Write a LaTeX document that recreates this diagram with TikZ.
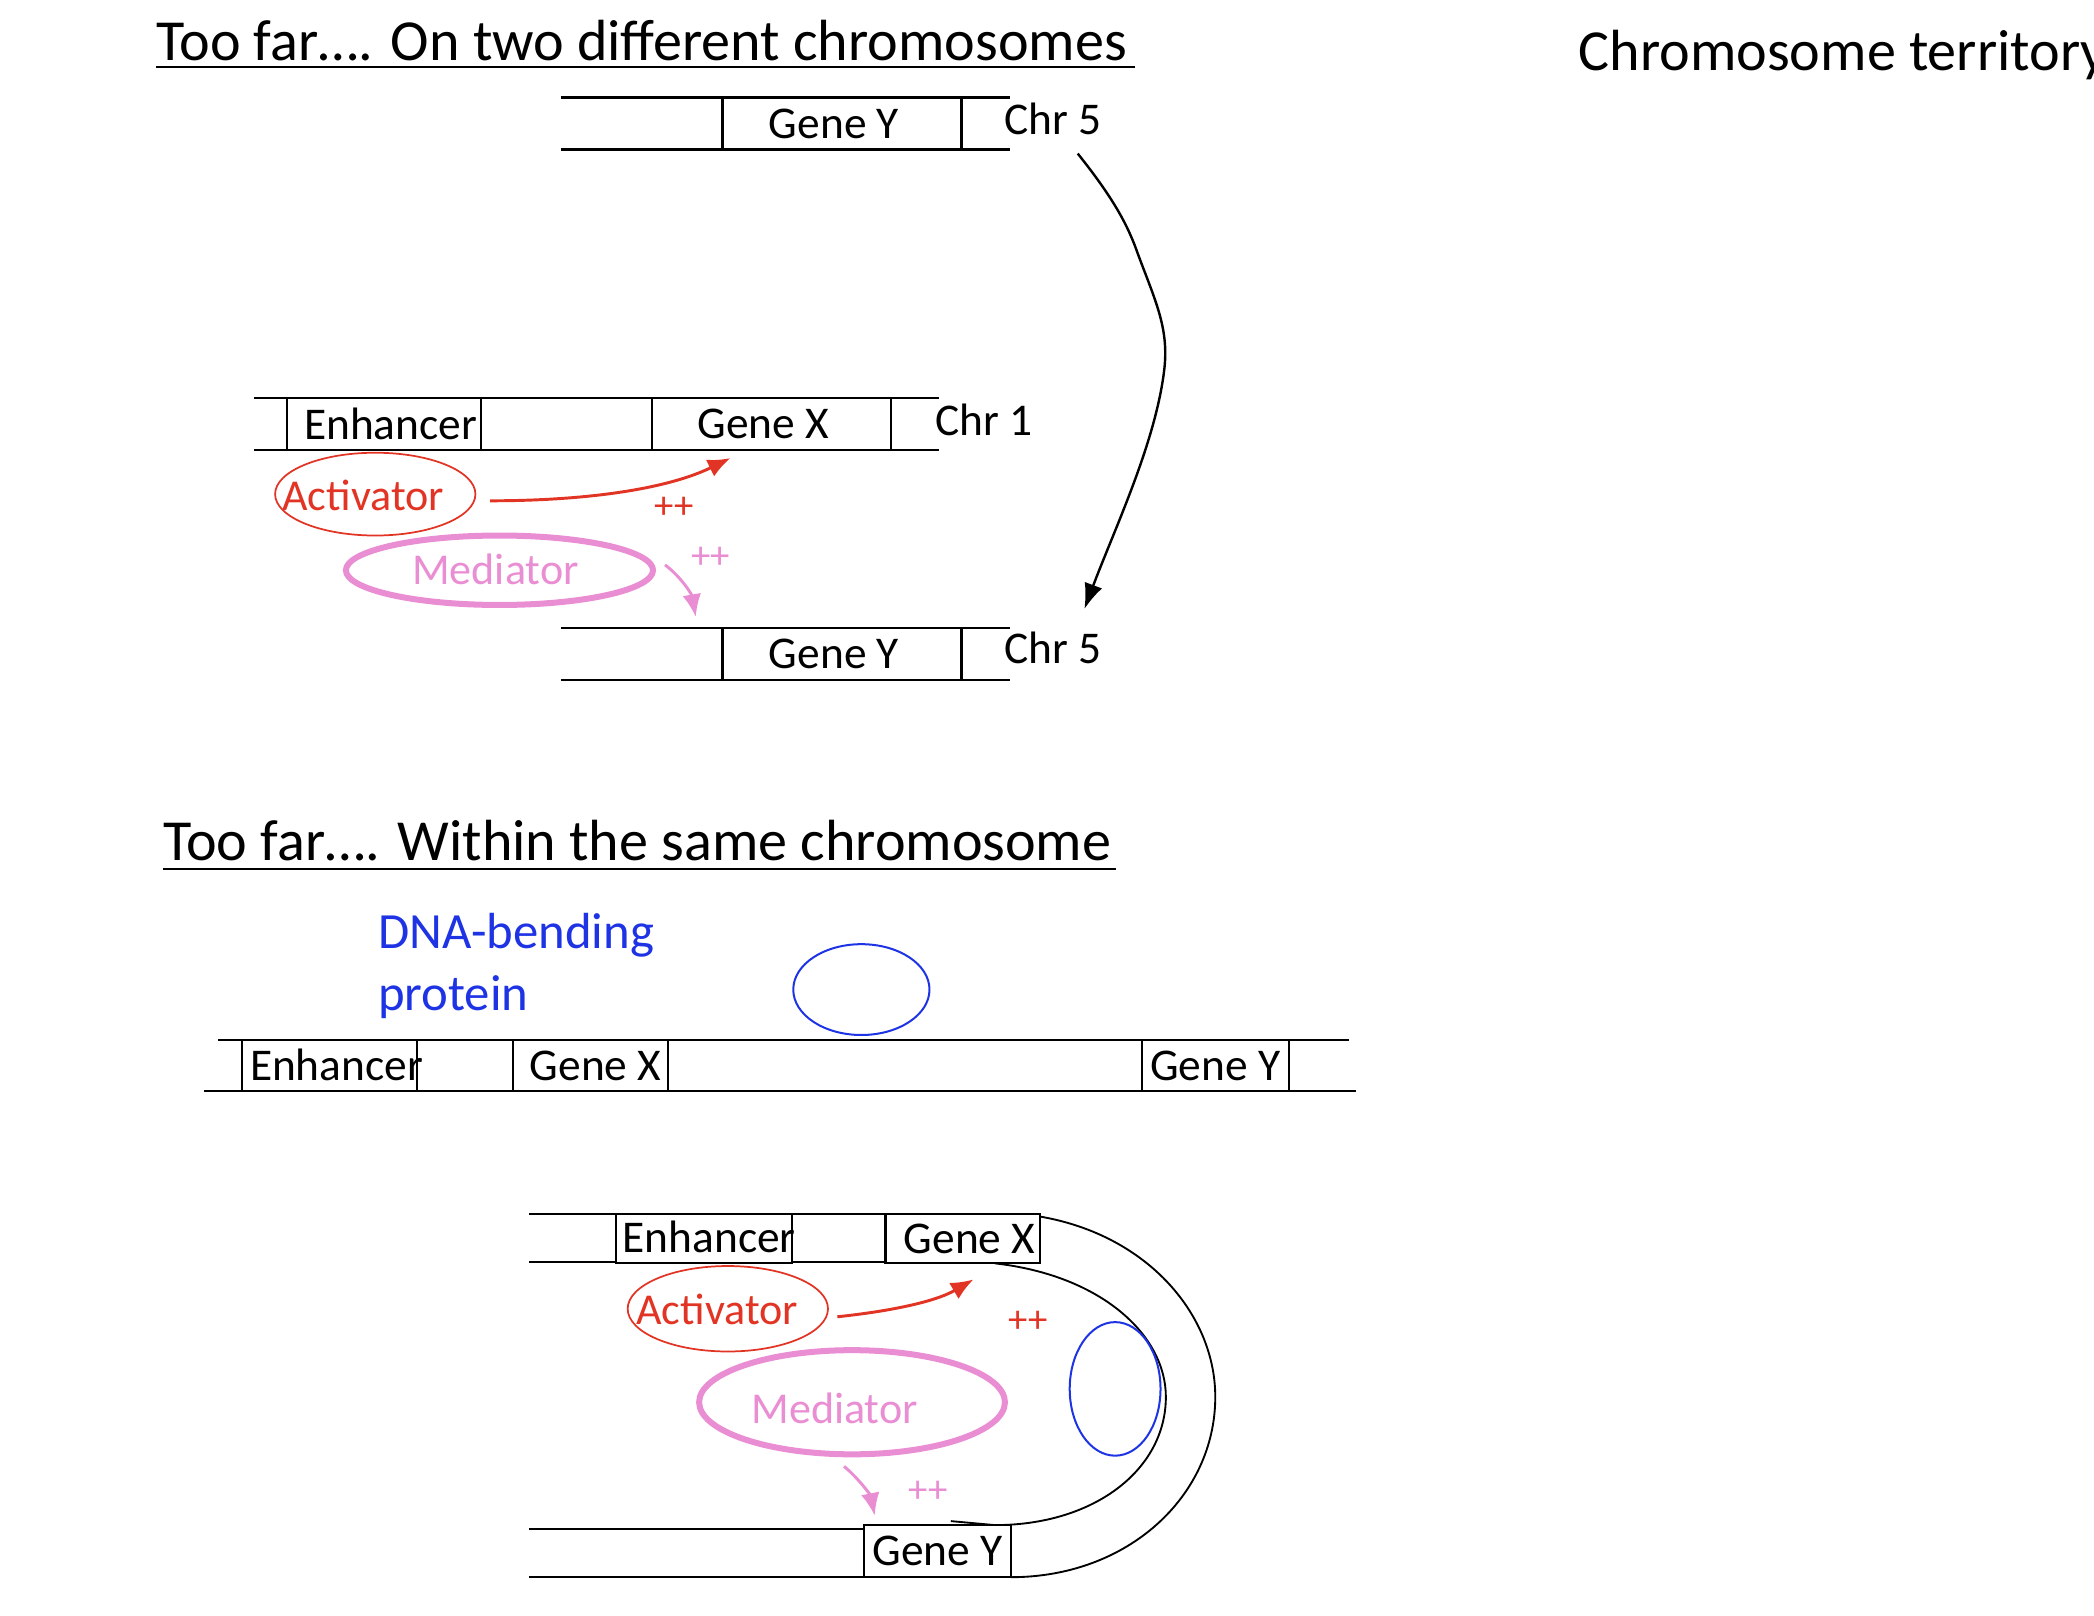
\documentclass[tikz,border=0pt]{standalone}
\usepackage{fontspec}
\setmainfont{Carlito}
\usetikzlibrary{shapes.geometric,arrows.meta}
\definecolor{actred}{RGB}{226,52,36}
\definecolor{medpink}{RGB}{234,142,212}
\definecolor{bendblue}{RGB}{30,52,228}
\begin{document}
\begin{tikzpicture}[x=1pt,y=-1pt,
  titlefont/.style={font=\fontsize{43.5}{50}\selectfont, inner sep=0pt},
  lbl/.style={font=\fontsize{34}{40}\selectfont, inner sep=0pt},
  dna/.style={line width=1.7pt},
  gbox/.style={draw, line width=1.7pt, fill=white, rectangle, inner sep=0pt, font=\fontsize{34}{40}\selectfont},
  uline/.style={line width=1.6pt},
  actell/.style={draw=actred, ellipse, line width=1.3pt, inner sep=0pt},
  medell/.style={draw=medpink, ellipse, line width=4.5pt, inner sep=0pt},
  bluell/.style={draw=bendblue, ellipse, line width=1.5pt, inner sep=0pt},
  acttxt/.style={text=actred, font=\fontsize{33}{40}\selectfont, inner sep=0pt},
  medtxt/.style={text=medpink, font=\fontsize{33}{40}\selectfont, inner sep=0pt},
  plusred/.style={text=actred, font=\fontsize{29}{34}\selectfont, inner sep=0pt},
  pluspink/.style={text=medpink, font=\fontsize{29}{34}\selectfont, inner sep=0pt},
  redarrow/.style={draw=actred, line width=2.2pt, -{Latex[length=17pt,width=14pt]}},
  pinkarrow/.style={draw=medpink, line width=2.2pt, -{Latex[length=17pt,width=14pt]}},
  blackarrow/.style={draw=black, line width=1.8pt, -{Latex[length=19pt,width=14pt]}},
  arcline/.style={line width=1.4pt}
]
\useasboundingbox (0,0) rectangle (1568,1210);

% ---------- Section 1 ----------
\node[titlefont, anchor=base west] (t1) at (117,45) {Too far…. On two different chromosomes};
\coordinate (u1a) at (117,50); \coordinate (u1b) at (850,50);
\draw[uline] (u1a) -- (u1b);

\node[titlefont, anchor=base west] (terr) at (1182,53) {Chromosome territory};

% Chr 5 top
\coordinate (a1) at (420,73); \coordinate (a2) at (756,73);
\coordinate (a3) at (420,112); \coordinate (a4) at (756,112);
\draw[dna] (a1) -- (a2);
\draw[dna] (a3) -- (a4);
\node[gbox, minimum width=179, minimum height=39] (gy1) at (630.5,92.5) {Gene Y\hspace*{12pt}};
\node[lbl, anchor=base west] (chr5a) at (752,101) {Chr 5};

% Chr 1
\coordinate (b1) at (190,298); \coordinate (b2) at (703,298);
\coordinate (b3) at (190,337); \coordinate (b4) at (703,337);
\draw[dna] (b1) -- (b2);
\draw[dna] (b3) -- (b4);
\node[gbox, minimum width=145, minimum height=39] (enh1) at (287.5,317.5) {\hspace*{10pt}Enhancer};
\node[gbox, minimum width=179, minimum height=39] (gx1) at (577.5,317.5) {Gene X\hspace*{12pt}};
\node[lbl, anchor=base west] (chr1) at (700,326) {Chr 1};

% Activator / Mediator 1
\node[actell, minimum width=150, minimum height=62] (act1) at (281,370) {};
\node[acttxt, anchor=base] (act1t) at (272,382) {Activator};
\node[medell, minimum width=230, minimum height=52] (med1) at (374,427) {};
\node[medtxt, anchor=base] (med1t) at (371,438) {Mediator};

\coordinate (ra1s) at (367,375); \coordinate (ra1e) at (547,343);
\draw[redarrow] (ra1s) .. controls (440,375) and (500,366) .. (ra1e);
\node[plusred] (p1) at (505,380) {++};
\coordinate (pa1s) at (498,423); \coordinate (pa1e) at (521,462);
\draw[pinkarrow] (pa1s) .. controls (510,432) and (518,445) .. (pa1e);
\node[pluspink] (p2) at (532,418) {++};

% Chr 5 bottom
\coordinate (c1) at (420,470); \coordinate (c2) at (756,470);
\coordinate (c3) at (420,509); \coordinate (c4) at (756,509);
\draw[dna] (c1) -- (c2);
\draw[dna] (c3) -- (c4);
\node[gbox, minimum width=179, minimum height=39] (gy2) at (630.5,489.5) {Gene Y\hspace*{12pt}};
\node[lbl, anchor=base west] (chr5b) at (752,497) {Chr 5};

% black curved arrow
\coordinate (ka) at (807,115); \coordinate (kb) at (812,456);
\draw[blackarrow] (ka) .. controls (835,150) and (845,170) .. (852,190)
  .. controls (865,225) and (875,245) .. (872,275)
  .. controls (866,330) and (835,395) .. (kb);

% ---------- Section 2 ----------
\node[titlefont, anchor=base west] (t2) at (122,644) {Too far…. Within the same chromosome};
\coordinate (u2a) at (122,651); \coordinate (u2b) at (836,651);
\draw[uline] (u2a) -- (u2b);

\node[text=bendblue, font=\fontsize{38}{47}\selectfont, inner sep=0pt, anchor=base west] (dbp1) at (283,710) {DNA-bending};
\node[text=bendblue, font=\fontsize{38}{47}\selectfont, inner sep=0pt, anchor=base west] (dbp2) at (283,757) {protein};
\node[bluell, minimum width=102, minimum height=68] (blue1) at (645,741) {};

\coordinate (d1) at (163,779); \coordinate (d2) at (1010,779);
\coordinate (d3) at (153,817); \coordinate (d4) at (1015,817);
\draw[dna] (d1) -- (d2);
\draw[dna] (d3) -- (d4);
\node[gbox, minimum width=131, minimum height=38] (enh2) at (246.5,798) {};
\node[lbl, anchor=base west] (enh2t) at (187,809) {Enhancer};
\node[gbox, minimum width=116, minimum height=38] (gx2) at (442,798) {\hspace*{8pt}Gene X};
\node[gbox, minimum width=110, minimum height=38] (gy3) at (910,798) {Gene Y};

% ---------- Section 3 ----------
\coordinate (oa) at (779,911); \coordinate (ob) at (757,1181);
\draw[arcline] (oa) .. controls (860,925) and (910,985) .. (910,1046)
  .. controls (910,1120) and (845,1181) .. (ob);
\coordinate (ia) at (745,946); \coordinate (ib) at (712,1139);
\draw[arcline] (ia) .. controls (825,955) and (873,1000) .. (873,1046)
  .. controls (873,1100) and (820,1142) .. (745,1142) -- (ib);

\coordinate (e1) at (396,909); \coordinate (e2) at (663,909);
\coordinate (e3) at (396,945); \coordinate (e4) at (663,945);
\draw[dna] (e1) -- (e2);
\draw[dna] (e3) -- (e4);
\node[gbox, minimum width=132, minimum height=37] (enh3) at (527,927.5) {};
\node[lbl, anchor=base west] (enh3t) at (466,938) {Enhancer};
\node[gbox, minimum width=116, minimum height=37] (gx3) at (721,927.5) {\hspace*{10pt}Gene X};

\coordinate (f1) at (396,1145); \coordinate (f2) at (647,1145);
\coordinate (f3) at (396,1181); \coordinate (f4) at (757,1181);
\draw[dna] (f1) -- (f2);
\draw[dna] (f3) -- (f4);
\node[gbox, minimum width=110, minimum height=39] (gy4) at (702,1161.5) {Gene Y};

\node[actell, minimum width=150, minimum height=64] (act2) at (545,980) {};
\node[acttxt, anchor=base] (act2t) at (537,992) {Activator};
\node[medell, minimum width=229, minimum height=78] (med2) at (638,1050) {};
\node[medtxt, anchor=base] (med2t) at (625,1066) {Mediator};
\node[bluell, minimum width=68, minimum height=100] (blue2) at (835,1040) {};

\coordinate (ra2s) at (627,986); \coordinate (ra2e) at (729,958);
\draw[redarrow] (ra2s) .. controls (665,982) and (700,975) .. (ra2e);
\node[plusred] (p3) at (770,990) {++};
\coordinate (pa2s) at (632,1098); \coordinate (pa2e) at (655,1135);
\draw[pinkarrow] (pa2s) .. controls (643,1107) and (652,1120) .. (pa2e);
\node[pluspink] (p4) at (695,1117) {++};
\end{tikzpicture}
\end{document}
